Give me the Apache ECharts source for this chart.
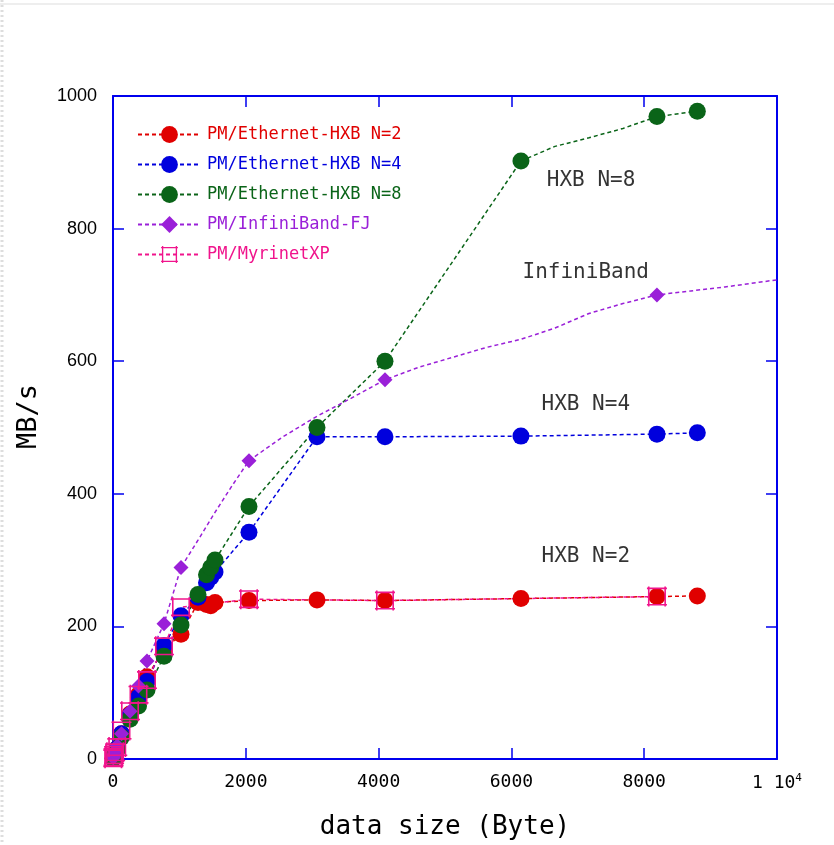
<!DOCTYPE html>
<html>
<head>
<meta charset="utf-8">
<title>PM throughput</title>
<script src="https://cdn.jsdelivr.net/npm/echarts@6/dist/echarts.min.js"></script>
<style>
  html, body { margin: 0; padding: 0; background: #fff; }
  #main { width: 834px; height: 845px; }
</style>
</head>
<body>
<div id="main"></div>
<script>
// data size (Byte) for the Ethernet-HXB runs
var hxbSizes = [4, 8, 16, 32, 64, 128, 256, 384, 512, 768, 1024, 1280, 1408, 1472, 1536, 2048, 3072, 4096, 6144, 8192, 8800];
var hxb2 = [1, 2, 4, 8, 16, 38, 68, 97, 124, 165, 188, 236, 233, 231, 236, 239, 240, 239, 242, 245, 246];
var hxb4 = [1, 2, 4, 8, 16, 38, 66, 93, 117, 171, 216, 244, 266, 274, 282, 342, 486, 486, 487, 490, 492];
var hxb8 = [1, 2, 4, 7, 14, 33, 60, 80, 104, 155, 202, 248, 278, 289, 300, 381, 500, 600, 902, 969, 977];
// points of the N=8 curve without a marker
var hxb8LineSizes = [6656, 7168, 7680];
var hxb8Line = [924, 937, 951];

var ibSizes = [4, 8, 16, 32, 64, 128, 256, 384, 512, 768, 1024, 2048, 4096, 8192];
var ib = [2, 4, 7, 12, 20, 38, 72, 110, 148, 204, 289, 450, 572, 700];
var ibLineSizes = [1280, 1536, 1792, 2560, 3072, 3584, 4608, 5120, 5632, 6144, 6656, 7168, 7680, 8704, 9216, 9728, 10240];
var ibLine = [330, 372, 412, 486, 517, 544, 591, 606, 621, 633, 650, 672, 687, 706, 712, 719, 726];

var myriSizes = [4, 8, 16, 32, 64, 128, 256, 384, 512, 768, 1024, 2048, 4096, 8192];
var myri = [1, 3, 6, 10, 18, 43, 72, 97, 119, 170, 229, 241, 239, 245];

var names = ['PM/Ethernet-HXB N=2', 'PM/Ethernet-HXB N=4', 'PM/Ethernet-HXB N=8', 'PM/InfiniBand-FJ', 'PM/MyrinetXP'];
var colors = ['#e00000', '#0000dd', '#0a6418', '#9a20d8', '#f0148c'];

var notes = [['HXB N=8', 7200, 873], ['InfiniBand', 7120, 734], ['HXB N=4', 7120, 535], ['HXB N=2', 7120, 306]];

var squareBox = 'path://M0 1H20V2.6H0Z M0 17.4H20V19H0Z M1 0H2.6V20H1Z M17.4 0H19V20H17.4Z';

function pts(xs, ys, lxs, lys) {
  var arr = [];
  xs.forEach(function (x, i) { arr.push({ value: [x, ys[i]] }); });
  (lxs || []).forEach(function (x, i) { arr.push({ value: [x, lys[i]], symbol: 'none' }); });
  arr.sort(function (a, b) { return a.value[0] - b.value[0]; });
  return arr;
}

function lineSeries(idx, data, symbol, size) {
  return {
    name: names[idx],
    type: 'line',
    data: data,
    symbol: symbol,
    symbolSize: size,
    showAllSymbol: true,
    clip: true,
    itemStyle: { color: colors[idx] },
    lineStyle: { color: colors[idx], width: 1.5, type: [4, 3] },
    emphasis: { disabled: true }
  };
}

var mono = 'DejaVu Sans Mono';
var axisBlue = '#0000ee';

var chart = echarts.init(document.getElementById('main'));

function xAx(pos) {
  return {
    type: 'value', position: pos, min: 0, max: 10000, interval: 2000,
    axisLine: { show: true, onZero: false, lineStyle: { color: axisBlue, width: 2 } },
    axisTick: { show: true, inside: true, length: 11, lineStyle: { color: axisBlue, width: 1.5 } },
    splitLine: { show: false },
    axisLabel: pos === 'bottom' ? {
      color: '#000', fontFamily: mono, fontSize: 18, margin: 14,
      formatter: function (v) { return v === 10000 ? '1 10{sup|4}' : String(v); },
      rich: { sup: { fontFamily: mono, fontSize: 11, verticalAlign: 'top', padding: [0, 0, 10, 0] } }
    } : { show: false },
    name: pos === 'bottom' ? 'data size (Byte)' : '',
    nameLocation: 'middle', nameGap: 55,
    nameTextStyle: { color: '#000', fontFamily: mono, fontSize: 26 }
  };
}

function yAx(pos) {
  return {
    type: 'value', position: pos, min: 0, max: 1000, interval: 200,
    axisLine: { show: true, onZero: false, lineStyle: { color: axisBlue, width: 2 } },
    axisTick: { show: true, inside: true, length: 11, lineStyle: { color: axisBlue, width: 1.5 } },
    splitLine: { show: false },
    axisLabel: pos === 'left' ? {
      color: '#000', fontFamily: 'Liberation Sans', fontSize: 18, margin: 16,
      formatter: function (v) { return String(v); }
    } : { show: false },
    name: pos === 'left' ? 'MB/s' : '',
    nameLocation: 'middle', nameGap: 71,
    nameTextStyle: { color: '#000', fontFamily: mono, fontSize: 27, padding: [0, 0, 0, 22] }
  };
}

chart.setOption({
  backgroundColor: '#fff',
  animation: false,
  grid: { left: 113, right: 57, top: 96, bottom: 86 },
  xAxis: [xAx('bottom'), xAx('top')],
  yAxis: [yAx('left'), yAx('right')],
  legend: {
    left: 132, top: 121, orient: 'vertical',
    itemWidth: 63, itemHeight: 21, itemGap: 13,
    textStyle: { fontFamily: mono, fontSize: 17, padding: [0, 0, 0, 1] },
    data: names.map(function (n, i) { return { name: n, textStyle: { color: colors[i] } }; })
  },
  graphic: [
    { type: 'line', shape: { x1: 0, y1: 4, x2: 834, y2: 4 }, style: { stroke: '#dddddd', lineWidth: 1 } },
    { type: 'line', shape: { x1: 2, y1: 0, x2: 2, y2: 845 }, style: { stroke: '#dddddd', lineWidth: 3, lineDash: [2, 3] } }
  ],
  series: [
    lineSeries(0, pts(hxbSizes, hxb2), 'circle', 17),
    lineSeries(1, pts(hxbSizes, hxb4), 'circle', 17),
    lineSeries(2, pts(hxbSizes, hxb8, hxb8LineSizes, hxb8Line), 'circle', 17),
    lineSeries(3, pts(ibSizes, ib, ibLineSizes, ibLine), 'diamond', 15),
    lineSeries(4, pts(myriSizes, myri), squareBox, 20),
    {
      type: 'scatter', symbolSize: 0, silent: true,
      data: notes.map(function (n) { return { value: [n[1], n[2]], name: n[0] }; }),
      label: { show: true, position: 'inside', formatter: '{b}', color: '#000', fontFamily: mono, fontSize: 21 }
    }
  ]
});
</script>
</body>
</html>
